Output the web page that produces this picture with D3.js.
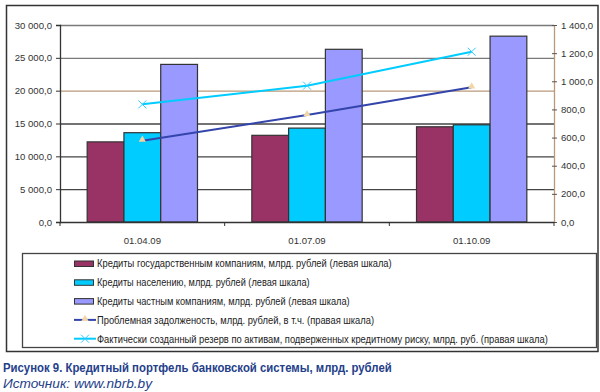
<!DOCTYPE html>
<html>
<head>
<meta charset="utf-8">
<script src="https://cdn.jsdelivr.net/npm/d3@7"></script>
<style>
  html, body { margin: 0; padding: 0; background: #fff; }
  svg { display: block; font-family: "Liberation Sans", Arial, sans-serif; }
</style>
</head>
<body>
<svg id="chart" width="600" height="392"></svg>
<script>
// данные
const categories = ['01.04.09', '01.07.09', '01.10.09'];
const govCredits = [12200, 13200, 14500];
const popCredits = [13600, 14300, 14800];
const privCredits = [24000, 26300, 28300];
const problemDebt = [578, 760, 957];
const reserve = [836, 969, 1210];
const leftTicks = [0, 5000, 10000, 15000, 20000, 25000, 30000];
const rightTicks = [0, 200, 400, 600, 800, 1000, 1200, 1400];

const barSeries = [
    { name: 'Кредиты государственным компаниям, млрд. рублей (левая шкала)', values: govCredits, color: '#993366', w: 295 },
    { name: 'Кредиты населению, млрд. рублей (левая шкала)', values: popCredits, color: '#00CCFF', w: 213 },
    { name: 'Кредиты частным компаниям, млрд. рублей (левая шкала)', values: privCredits, color: '#9999FF', w: 253 }
];
const lineSeries = [
    { name: 'Проблемная задолженость, млрд. рублей, в т.ч. (правая шкала)', values: problemDebt, color: '#3344AA', marker: 'tri', w: 277 },
    { name: 'Фактически созданный резерв по активам, подверженных кредитному риску, млрд. руб. (правая шкала)', values: reserve, color: '#00CCFF', marker: 'x', w: 451 }
];

const svg = d3.select('#chart');
const plot = { left: 60, right: 554, top: 25, bottom: 222 };

// текст, сжатый по ширине (узкий шрифт как в оригинале)
function fitText(parent, x, y, width, txt, attrs) {
    const g = parent.append('g');
    const t = g.append('text').attr('x', 0).attr('y', 0).text(txt);
    Object.entries(attrs).forEach(([k, v]) => t.attr(k, v));
    const natural = t.node().getComputedTextLength();
    g.attr('transform', `translate(${x},${y}) scale(${width / natural},1)`);
    return t;
}

// рамка
svg.append('rect')
    .attr('x', 6.5).attr('y', 5.5).attr('width', 591.5).attr('height', 346)
    .attr('fill', 'none').attr('stroke', '#333').attr('stroke-width', 1.5);

const x0 = d3.scaleBand().domain(categories)
    .range([plot.left, plot.right]).paddingInner(0.33).paddingOuter(0.165);
const x1 = d3.scaleBand().domain(d3.range(barSeries.length)).range([0, x0.bandwidth()]);
const yL = d3.scaleLinear().domain([0, 30000]).range([plot.bottom, plot.top]);
const yR = d3.scaleLinear().domain([0, 1400]).range([plot.bottom, plot.top]);

const fmt = v => d3.format(',.1f')(v).replace(/,/g, ' ').replace('.', ',');

// сетка
svg.append('g').selectAll('line').data(leftTicks.slice(1)).enter().append('line')
    .attr('x1', plot.left).attr('x2', plot.right)
    .attr('y1', d => yL(d) + 0.5).attr('y2', d => yL(d) + 0.5)
    .attr('stroke', d => d === 20000 ? '#b89a78' : (d >= 25000 ? '#7a7a7a' : '#444'))
    .attr('stroke-width', 1.3);

// левая ось
const axL = svg.append('g').attr('transform', `translate(${plot.left},0)`)
    .call(d3.axisLeft(yL).tickValues(leftTicks).tickSize(4).tickFormat(fmt));
axL.select('.domain').attr('stroke', '#333').attr('stroke-width', 1.3);
axL.selectAll('line').attr('stroke', '#333');
axL.selectAll('text').attr('font-size', '9.6px').attr('fill', '#333').attr('x', -8);

// правая ось
const axR = svg.append('g').attr('transform', `translate(${plot.right},0)`)
    .call(d3.axisRight(yR).tickValues(rightTicks).tickSizeInner(3).tickSizeOuter(0).tickFormat(fmt));
axR.select('.domain').attr('stroke', '#b89a78').attr('stroke-width', 1.3);
axR.selectAll('.tick line').attr('stroke', '#555').attr('x1', -2);
axR.selectAll('text').attr('font-size', '9.6px').attr('fill', '#333').attr('x', 7);

// столбцы
const groups = svg.append('g').selectAll('g').data(categories).enter().append('g')
    .attr('transform', d => `translate(${x0(d)},0)`);
barSeries.forEach((s, si) => {
    groups.append('rect')
        .attr('x', x1(si))
        .attr('y', (d, i) => yL(s.values[i]))
        .attr('width', x1.bandwidth())
        .attr('height', (d, i) => plot.bottom - yL(s.values[i]))
        .attr('fill', s.color)
        .attr('stroke', '#333').attr('stroke-width', 1.2);
});

// ось категорий
const step = x0.step();
svg.append('line').attr('x1', plot.left).attr('x2', plot.right)
    .attr('y1', plot.bottom + 0.5).attr('y2', plot.bottom + 0.5)
    .attr('stroke', '#333').attr('stroke-width', 1.3);
svg.append('g').selectAll('line').data(d3.range(categories.length + 1)).enter().append('line')
    .attr('x1', i => plot.left + i * step).attr('x2', i => plot.left + i * step)
    .attr('y1', plot.bottom).attr('y2', plot.bottom + 4)
    .attr('stroke', '#333');
svg.append('g').selectAll('text').data(categories).enter().append('text')
    .attr('x', d => x0(d) + x0.bandwidth() / 2).attr('y', 243.5)
    .attr('text-anchor', 'middle').attr('font-size', '9.6px').attr('fill', '#333')
    .text(d => d);

// линии
const cx = c => x0(c) + x0.bandwidth() / 2;
function drawMarker(g, type, x, y) {
    if (type === 'tri') {
        g.append('path').attr('d', d3.symbol(d3.symbolTriangle, 22)())
            .attr('transform', `translate(${x},${y - 1})`).attr('fill', '#F2D6A6');
    } else {
        g.append('path').attr('d', `M${x - 4},${y - 4}L${x + 4},${y + 4}M${x - 4},${y + 4}L${x + 4},${y - 4}`)
            .attr('stroke', '#33CCFF').attr('stroke-width', 1);
    }
}
lineSeries.forEach(s => {
    const line = d3.line().x((d, i) => cx(categories[i])).y(d => yR(d));
    svg.append('path').datum(s.values).attr('d', line)
        .attr('fill', 'none').attr('stroke', s.color).attr('stroke-width', 2);
    const mg = svg.append('g');
    s.values.forEach((v, i) => drawMarker(mg, s.marker, cx(categories[i]), yR(v)));
});

// легенда
svg.append('rect').attr('x', 22.5).attr('y', 253.5).attr('width', 574).attr('height', 94)
    .attr('fill', 'none').attr('stroke', '#444').attr('stroke-width', 1.3);
const rowY = i => 263.5 + i * 18.8;
const lg = svg.append('g');
barSeries.forEach((s, i) => {
    lg.append('rect').attr('x', 74.5).attr('y', rowY(i) - 2.5).attr('width', 19).attr('height', 5.5)
        .attr('fill', s.color).attr('stroke', '#333').attr('stroke-width', 1);
});
lineSeries.forEach((s, j) => {
    const i = j + barSeries.length;
    lg.append('line').attr('x1', 74).attr('x2', 96).attr('y1', rowY(i)).attr('y2', rowY(i))
        .attr('stroke', s.color).attr('stroke-width', 2);
    drawMarker(lg, s.marker, 85, rowY(i));
});
[...barSeries, ...lineSeries].forEach((s, i) => {
    fitText(lg, 97, rowY(i) + 3.8, s.w, s.name, { 'font-size': '10.5px', fill: '#222' });
});

// подпись
fitText(svg, 3, 372, 389, 'Рисунок 9. Кредитный портфель банковской системы, млрд. рублей',
    { 'font-size': '12.5px', 'font-weight': 'bold', fill: '#24408A' });
fitText(svg, 3, 387.5, 149, 'Источник: www.nbrb.by',
    { 'font-size': '12.5px', 'font-style': 'italic', fill: '#24408A' });
</script>
</body>
</html>
